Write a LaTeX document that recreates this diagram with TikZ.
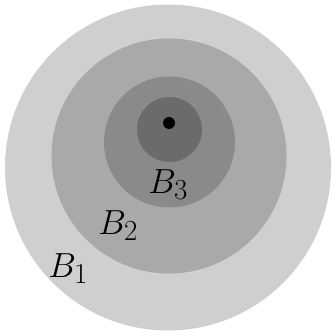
\documentclass[tikz,border=0pt]{standalone}
\begin{document}
\begin{tikzpicture}[x=1pt,y=-1pt,
  ball/.style={circle,draw=none,inner sep=0pt},
  lab/.style={inner sep=0pt,anchor=base west,font=\Huge,scale=1.4}]
\useasboundingbox (0,0) rectangle (332,334);
\fill[white] (0,0) rectangle (332,334);
\node[ball,fill={rgb,255:red,207;green,207;blue,207},minimum size=326pt] (b1) at (168,167.5) {};
\node[ball,fill={rgb,255:red,169;green,169;blue,169},minimum size=235pt] (b2) at (169,156) {};
\node[ball,fill={rgb,255:red,138;green,138;blue,138},minimum size=131pt] (b3) at (169.5,142) {};
\node[ball,fill={rgb,255:red,107;green,107;blue,107},minimum size=65pt] (b4) at (169.5,129.5) {};
\node[ball,fill=black,minimum size=12pt] (c) at (169,123) {};
\node[lab] (l1) at (48,277) {$B_1$};
\node[lab] (l2) at (98,234) {$B_2$};
\node[lab] (l3) at (148,193) {$B_3$};
\end{tikzpicture}
\end{document}
